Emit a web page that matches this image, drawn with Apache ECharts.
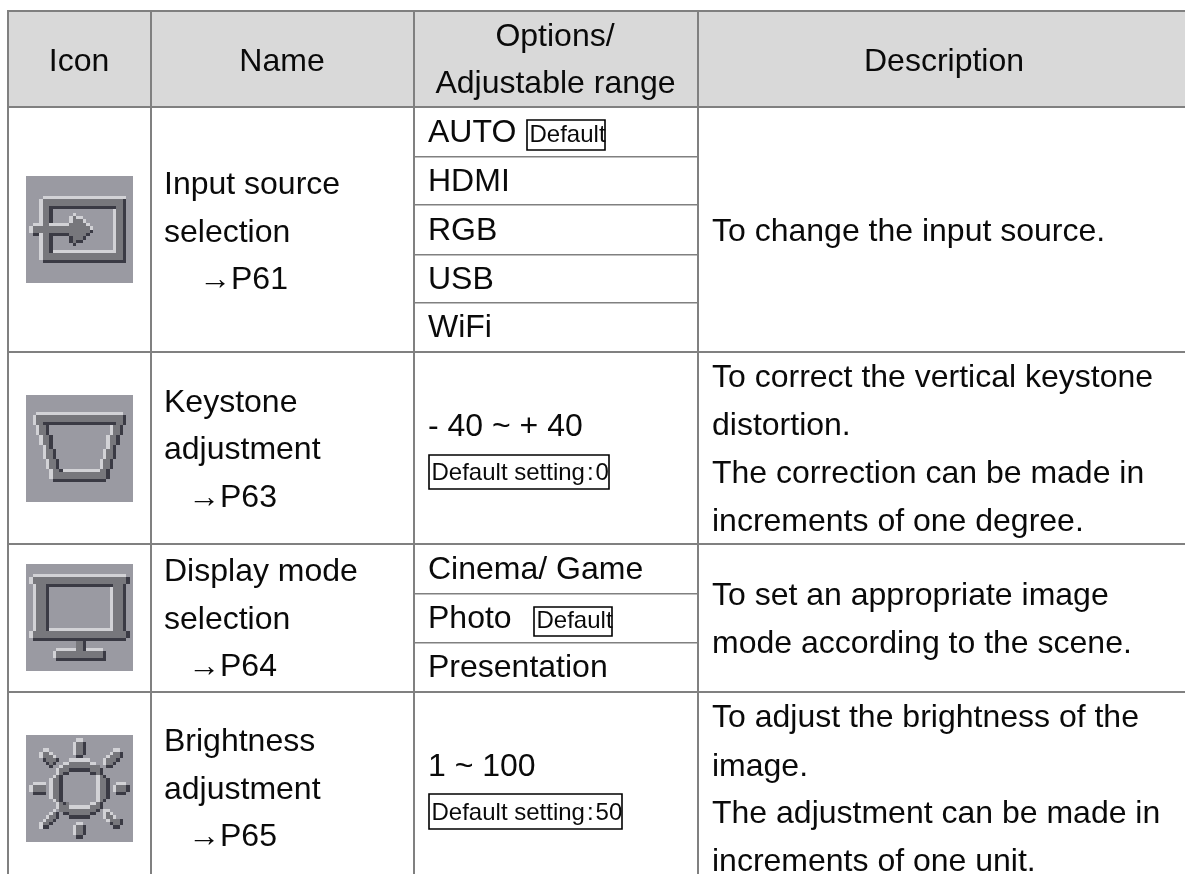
<!DOCTYPE html>
<html><head><meta charset="utf-8">
<style>html,body{margin:0;padding:0;background:#fff}#c{width:1185px;height:874px}</style>
<script src="https://cdn.jsdelivr.net/npm/echarts@6/dist/echarts.min.js"></script>
</head><body><div id="c"></div>
<script>
// ---- content ----
const headers = ['Icon', 'Name', 'Options/', 'Adjustable range', 'Description'];
const names = ['Input source', 'selection', '\u2192P61', 'Keystone', 'adjustment', '\u2192P63',
  'Display mode', 'selection', '\u2192P64', 'Brightness', 'adjustment', '\u2192P65'];
const options = ['AUTO', 'HDMI', 'RGB', 'USB', 'WiFi', '- 40 ~ + 40', 'Cinema/ Game', 'Photo', 'Presentation', '1 ~ 100'];
const badges = ['Default', 'Default setting\u200A:\u200A0', 'Default', 'Default setting\u200A:\u200A50'];
const descriptions = ['To change the input source.',
  'To correct the vertical keystone', 'distortion.', 'The correction can be made in', 'increments of one degree.',
  'To set an appropriate image', 'mode according to the scene.',
  'To adjust the brightness of the', 'image.', 'The adjustment can be made in', 'increments of one unit.'];

// ---- layout (page pixels) ----
const W = 1185, H = 874;
const FONT = '"Liberation Sans", Arial, sans-serif';
const LINE = '#808080', HEAD = '#d9d9d9', INK = '#0a0a0a';
const headerPos = [[79, 72, 'center'], [282, 72, 'center'], [555, 47, 'center'], [555.5, 94, 'center'], [944, 72, 'center']];
const nameX = [164, 164, 199, 164, 164, 188, 164, 164, 188, 164, 164, 188];
const nameBase = [195, 243, 290, 413, 460, 508, 582, 630, 677, 752, 800, 847];
const optionX = 428;
const optionBase = [143, 192, 241, 290, 338, 437, 580, 629, 678, 777];
const badgeBox = [[527, 120, 605, 150], [429, 455, 609, 489], [534, 607, 612, 636], [429, 794, 622, 829]];
const descX = 712;
const descBase = [242, 388, 436, 484, 532, 606, 654, 728, 777, 824, 872];
const rules = [
  [7, 10, W, 12], [9, 106, W, 108], [9, 351, W, 353], [9, 543, W, 545], [9, 691, W, 693],
  [7, 10, 9, H], [150, 12, 152, H], [413, 12, 415, H], [697, 12, 699, H],
  [415, 156, 697, 157.5], [415, 204, 697, 205.5], [415, 254, 697, 255.5], [415, 302, 697, 303.5],
  [415, 593, 697, 594.5], [415, 642, 697, 643.5]
];
const iconBox = [[26, 176], [26, 395], [26, 564], [26, 735]];
const ICON_SIZE = 107, ICON_GRID = 32;
const B = '#9a9aa2', M = '#77777c', D = '#3a3a44', L = '#d2d2d6';

// icon artwork: [colour, x0, y0, x1, y1] on a 32-cell grid
const iconInput = [
  [M,5,7,29,25],[B,8,10,26,22],
  [L,5,6,30,7],[L,4,7,5,25],[D,29,7,30,25],[D,5,25,30,26],
  [D,7,9,27,10],[D,7,10,8,23],[L,26,10,27,23],[L,8,22,27,23],
  [M,2,15,13,17],[L,1,15,2,17],[L,2,14,5,15],[L,7,14,13,15],[D,2,17,4,18],[D,8,17,13,18],
  [M,5,14,7,18],
  [M,14,12,15,21],[M,13,14,14,18],[M,15,13,17,20],[M,17,14,18,19],[M,18,15,19,18],[M,19,16,20,17],
  [L,13,12,14,14],[L,14,11,15,12],[L,15,12,17,13],[L,17,13,18,14],[L,18,14,19,15],[L,19,15,20,16],
  [D,19,16,20,17],[D,18,17,19,18],[D,17,18,18,19],[D,15,19,17,20],[D,14,20,15,21],[D,13,18,14,20]
];
const iconKeystone = [
  [M,3,6,29,9],[M,4,9,28,12],[M,5,12,27,15],[M,6,15,26,19],[M,7,19,25,22],[M,8,22,24,25],
  [B,7,9,25,12],[B,8,12,24,16],[B,9,16,23,19],[B,10,19,22,22],
  [L,3,5,29,6],[L,2,6,3,9],[L,3,9,4,12],[L,4,12,5,15],[L,5,15,6,19],[L,6,19,7,22],[L,7,22,8,25],
  [D,8,25,24,26],[D,24,22,25,25],[D,25,19,26,22],[D,26,15,27,19],[D,27,12,28,15],[D,28,9,29,12],[D,29,6,30,9],
  [D,5,8,27,9],[D,6,9,7,12],[D,7,12,8,16],[D,8,16,9,19],[D,9,19,10,22],[D,10,22,11,23],
  [L,11,22,22,23],[L,22,19,23,22],[L,23,16,24,19],[L,24,12,25,16],[L,25,9,26,12]
];
const iconDisplay = [
  [M,2,4,30,6],[M,3,6,29,20],[M,2,20,30,22],[B,7,7,25,19],
  [L,2,3,30,4],[L,1,4,2,6],[L,2,6,3,20],[L,1,20,2,22],
  [D,2,22,30,23],[D,30,4,31,6],[D,29,6,30,20],[D,30,20,31,22],
  [D,6,6,26,7],[D,6,7,7,20],[L,25,7,26,20],[L,7,19,26,20],
  [M,15,23,17,26],[D,17,23,18,26],
  [M,9,26,23,28],[L,9,25,15,26],[L,18,25,23,26],[L,8,26,9,28],[D,9,28,24,29],[D,23,26,24,28]
];
const iconBrightness = [
  // ring
  [M,12,8,20,9],[M,10,9,22,10],[M,9,10,23,12],[M,8,12,24,13],[M,7,13,25,19],[M,8,19,24,20],[M,9,20,23,22],[M,10,22,22,23],[M,12,23,20,24],
  [B,13,11,19,12],[B,11,12,21,20],[B,13,20,19,21],
  [L,13,7,19,8],[L,11,8,13,9],[L,19,8,21,9],[L,10,9,11,10],[L,9,10,10,12],[L,8,12,9,13],[L,7,13,8,19],[L,8,19,9,20],[L,9,20,10,22],
  [D,13,24,19,25],[D,11,23,13,24],[D,19,23,21,24],[D,21,22,22,23],[D,22,20,23,22],[D,23,19,24,20],[D,24,13,25,19],[D,23,12,24,13],[D,22,10,23,12],
  [D,13,10,19,11],[D,11,11,13,12],[D,19,11,21,12],[D,10,12,11,20],[D,11,20,12,21],
  [L,21,12,22,20],[L,19,20,21,21],[L,13,21,19,22],
  // top ray
  [L,15,1,17,2],[L,14,2,15,6],[M,15,2,17,6],[D,17,2,18,6],[D,15,6,17,7],
  // bottom ray
  [L,15,26,17,27],[L,14,27,15,30],[M,15,27,17,30],[D,17,27,18,30],[D,15,30,17,31],
  // left ray
  [L,2,14,6,15],[L,1,15,2,17],[M,2,15,6,17],[D,2,17,6,18],
  // right ray
  [L,27,14,30,15],[L,26,15,27,17],[M,27,15,30,17],[D,27,17,30,18],[D,30,15,31,17],
  // upper-left ray
  [M,5,5,7,6],[M,5,6,8,7],[M,6,7,9,8],[M,7,8,8,9],
  [L,5,4,7,5],[L,4,5,5,7],[L,7,5,8,6],[L,8,6,9,7],[D,5,7,6,8],[D,6,8,7,9],[D,7,9,8,10],[D,8,8,9,9],[D,9,7,10,8],
  // upper-right ray
  [M,26,5,28,6],[M,25,6,28,7],[M,24,7,27,8],[M,24,8,26,9],
  [L,26,4,28,5],[L,25,5,26,6],[L,24,6,25,7],[L,23,7,24,9],[D,28,5,29,7],[D,27,7,28,8],[D,26,8,27,9],[D,24,9,26,10],
  // lower-left ray
  [M,8,23,9,24],[M,7,24,9,25],[M,6,25,8,26],[M,5,26,7,27],
  [L,8,22,9,23],[L,7,23,8,24],[L,6,24,7,25],[L,5,25,6,26],[L,4,26,5,28],[D,9,23,10,25],[D,8,25,9,26],[D,7,26,8,27],[D,5,27,7,28],
  // lower-right ray
  [M,24,23,26,24],[M,24,24,27,25],[M,25,25,28,26],[M,26,26,28,27],
  [L,23,22,25,23],[L,25,23,26,24],[L,26,24,27,25],[L,23,23,24,25],[L,24,25,25,26],[D,28,25,29,27],[D,26,27,28,28],[D,25,26,26,27]
];
const iconArt = [iconInput, iconKeystone, iconDisplay, iconBrightness];

// ---- build series data from the arrays above ----
const textRows = [];
const addText = (text, x, base, size, align) => textRows.push({ value: [x, base, size], text, align });
headers.forEach((t, i) => addText(t, headerPos[i][0], headerPos[i][1], 32, headerPos[i][2]));
names.forEach((t, i) => addText(t, nameX[i], nameBase[i], 32, 'left'));
options.forEach((t, i) => addText(t, optionX, optionBase[i], 32, 'left'));
descriptions.forEach((t, i) => addText(t, descX, descBase[i], 32, 'left'));
badges.forEach((t, i) => addText(t, badgeBox[i][0] + 2.5, badgeBox[i][3] - (i % 2 ? 8 : 7), 24, 'left'));

const px = (api, x0, y0, x1, y1) => {
  const a = api.coord([x0, y0]), b = api.coord([x1, y1]);
  return { x: a[0], y: a[1], width: b[0] - a[0], height: b[1] - a[1] };
};
const snapped = (api, x0, y0, x1, y1) => {
  const a = api.coord([x0, y0]).map(Math.round), b = api.coord([x1, y1]).map(Math.round);
  return { x: a[0], y: a[1], width: b[0] - a[0], height: b[1] - a[1] };
};
const option = {
  animation: false,
  backgroundColor: '#fff',
  grid: { left: 0, right: 0, top: 0, bottom: 0, containLabel: false },
  xAxis: { type: 'value', min: 0, max: W, show: false },
  yAxis: { type: 'value', min: 0, max: H, inverse: true, show: false },
  series: [
    { type: 'custom', silent: true, z: 1, data: [[9, 12, W, 106]], encode: { x: [0, 2], y: [1, 3] },
      renderItem: (p, api) => ({ type: 'rect',
        shape: px(api, api.value(0), api.value(1), api.value(2), api.value(3)), style: { fill: HEAD } }) },
    { type: 'custom', silent: true, z: 2, data: rules, encode: { x: [0, 2], y: [1, 3] },
      renderItem: (p, api) => ({ type: 'rect',
        shape: px(api, api.value(0), api.value(1), api.value(2), api.value(3)), style: { fill: LINE } }) },
    { type: 'custom', silent: true, z: 3, data: iconBox, encode: { x: 0, y: 1 },
      renderItem: (p, api) => {
        const x = api.value(0), y = api.value(1), u = ICON_SIZE / ICON_GRID;
        const children = [{ type: 'rect', shape: snapped(api, x, y, x + ICON_SIZE, y + ICON_SIZE), style: { fill: B } }];
        iconArt[p.dataIndex].forEach(c => children.push({ type: 'rect',
          shape: snapped(api, x + c[1] * u, y + c[2] * u, x + c[3] * u, y + c[4] * u), style: { fill: c[0] } }));
        return { type: 'group', children };
      } },
    { type: 'custom', silent: true, z: 4, data: badgeBox, encode: { x: [0, 2], y: [1, 3] },
      renderItem: (p, api) => ({ type: 'rect',
        shape: px(api, api.value(0), api.value(1), api.value(2), api.value(3)),
        style: { fill: 'none', stroke: '#000', lineWidth: 1.6 } }) },
    { type: 'custom', silent: true, z: 5, data: textRows, encode: { x: 0, y: 1 },
      renderItem: (p, api) => {
        const size = api.value(2), pt = api.coord([api.value(0), api.value(1) - 0.31 * size]);
        const row = textRows[p.dataIndex];
        return { type: 'text', style: { text: row.text, x: pt[0], y: pt[1], fill: INK,
          font: size + 'px ' + FONT, align: row.align, verticalAlign: 'middle' } };
      } }
  ]
};
echarts.init(document.getElementById('c'), null, { renderer: 'canvas' }).setOption(option);
</script></body></html>
